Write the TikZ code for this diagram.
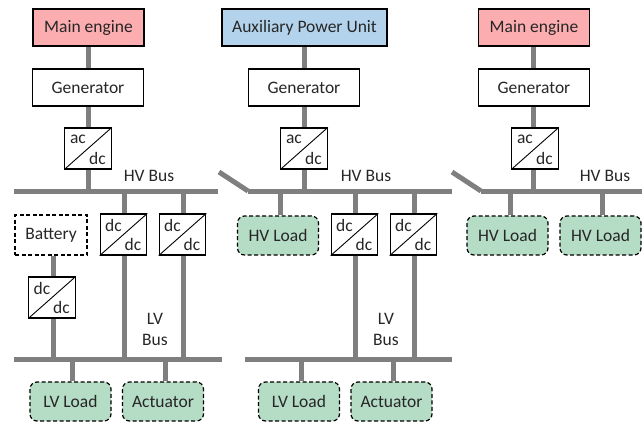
\documentclass[tikz,border=0pt]{standalone}
\usepackage{fontspec}
\setmainfont{Carlito}
\usetikzlibrary{calc}
\definecolor{enginered}{HTML}{FBADB0}
\definecolor{apublue}{HTML}{B3D3EC}
\definecolor{loadgreen}{HTML}{B5DCC4}
\definecolor{wire}{HTML}{7F7F7F}
\definecolor{ink}{HTML}{262626}
\tikzset{
  base/.style={draw=black,line width=1.2pt,minimum width=#1,minimum height=37pt,inner sep=0pt,text=ink,font=\fontsize{17.5}{20}\selectfont},
  engine/.style={base=111pt,fill=enginered},
  apu/.style={base=165pt,fill=apublue},
  gen/.style={base=111pt,fill=white},
  battery/.style={base=72pt,minimum height=40pt,fill=white,dash pattern=on 4pt off 2.5pt},
  load/.style={base=81pt,minimum height=39pt,fill=loadgreen,rounded corners=7pt,dash pattern=on 4pt off 2.5pt},
  conv/.style={draw=black,line width=1.2pt,minimum width=46.5pt,minimum height=41pt,inner sep=0pt,fill=white},
  wirel/.style={draw=wire,line width=5pt},
  busl/.style={draw=wire,line width=5pt},
  lbl/.style={text=ink,font=\fontsize{17.5}{20}\selectfont,inner sep=0pt}
}
\begin{document}
\begin{tikzpicture}[x=1pt,y=-1pt]
\useasboundingbox (0,0) rectangle (642,421);
% buses
\coordinate (b1l) at (14,191); \coordinate (b1r) at (218,191);
\coordinate (b2l) at (248,191); \coordinate (b2r) at (452,191);
\coordinate (b3l) at (481,191); \coordinate (b3r) at (642,191);
\coordinate (l1l) at (14,359); \coordinate (l1r) at (222,359);
\coordinate (l2l) at (245,359); \coordinate (l2r) at (452,359);
\coordinate (s2) at (219,172); \coordinate (s3) at (452,172);
\draw[busl] (b1l) -- (b1r);
\draw[busl] (b2l) -- (b2r);
\draw[busl] (b3l) -- (b3r);
\draw[busl] (l1l) -- (l1r);
\draw[busl] (l2l) -- (l2r);
\draw[wirel] (s2) -- (b2l);
\draw[wirel] (s3) -- (b3l);
% junctions
\foreach \n/\x/\y in {j1/88/191,j2/124.5/191,j3/183/191,j4/53/359,j5/124.5/359,j6/183/359,j7/72/359,j8/165/359,
  j9/304/191,j10/280/191,j11/355/191,j12/414/191,j13/355/359,j14/414/359,j15/301/359,j16/393/359,
  j17/533.5/191,j18/510/191,j19/602/191}
  \coordinate (\n) at (\x,\y);
% column 1
\node[engine] (e1) at (88.5,27.5) {Main engine};
\node[gen] (g1) at (88,87.5) {Generator};
\node[conv] (c1) at (88,148.5) {};
\node[conv] (c2) at (123.5,234.5) {};
\node[conv] (c3) at (182.5,234.5) {};
\node[battery] (bat) at (51,235) {Battery};
\node[conv] (c4) at (52,297.5) {};
\node[load] (ll1) at (70.5,401.5) {LV Load};
\node[load] (act1) at (163,401.5) {Actuator};
% column 2
\node[apu] (apu) at (304.5,27.5) {Auxiliary Power Unit};
\node[gen] (g2) at (304,87.5) {Generator};
\node[conv] (c5) at (304,148.5) {};
\node[load] (hl1) at (278,235.5) {HV Load};
\node[conv] (c6) at (354.5,234.5) {};
\node[conv] (c7) at (413.5,234.5) {};
\node[load] (ll2) at (299,401.5) {LV Load};
\node[load] (act2) at (391.5,401.5) {Actuator};
% column 3
\node[engine] (e3) at (534,27.5) {Main engine};
\node[gen] (g3) at (534,87.5) {Generator};
\node[conv] (c8) at (535,148.5) {};
\node[load] (hl2) at (507.5,235.5) {HV Load};
\node[load] (hl3) at (600.5,235.5) {HV Load};
% connectors
\draw[wirel] (e1.south -| g1) -- (g1);
\draw[wirel] (g1) -- (c1);
\draw[wirel] (c1) -- (j1);
\draw[wirel] (j2) -- (j2 |- c2.north);
\draw[wirel] (j3) -- (j3 |- c3.north);
\draw[wirel] (j5 |- c2.south) -- (j5);
\draw[wirel] (j6 |- c3.south) -- (j6);
\draw[wirel] (j4 |- bat.south) -- (j4 |- c4.north);
\draw[wirel] (j4 |- c4.south) -- (j4);
\draw[wirel] (j7) -- (j7 |- ll1.north);
\draw[wirel] (j8) -- (j8 |- act1.north);
\draw[wirel] (apu.south -| g2) -- (g2);
\draw[wirel] (g2) -- (c5);
\draw[wirel] (c5) -- (j9);
\draw[wirel] (j10) -- (j10 |- hl1.north);
\draw[wirel] (j11) -- (j11 |- c6.north);
\draw[wirel] (j12) -- (j12 |- c7.north);
\draw[wirel] (j13 |- c6.south) -- (j13);
\draw[wirel] (j14 |- c7.south) -- (j14);
\draw[wirel] (j15) -- (j15 |- ll2.north);
\draw[wirel] (j16) -- (j16 |- act2.north);
\draw[wirel] (j17 |- e3.south) -- (j17 |- g3.north);
\draw[wirel] (j17 |- g3.south) -- (j17 |- c8.north);
\draw[wirel] (j17 |- c8.south) -- (j17);
\draw[wirel] (j18) -- (j18 |- hl2.north);
\draw[wirel] (j19) -- (j19 |- hl3.north);
% converter diagonals and labels
\foreach \c/\t in {c1/ac,c2/dc,c3/dc,c4/dc,c5/ac,c6/dc,c7/dc,c8/ac}{
  \draw[line width=0.9pt] (\c.south west) -- (\c.north east);
  \node[lbl] at ($(\c.center)+(-10,-9)$) {\t};
  \node[lbl] at ($(\c.center)+(9.5,9.5)$) {dc};
}
% bus labels
\node[lbl] (hv1) at (149,176) {HV Bus};
\node[lbl] (hv2) at (366,175.5) {HV Bus};
\node[lbl] (hv3) at (605,176) {HV Bus};
\node[lbl] (lv1a) at (155,318.5) {LV};
\node[lbl] (lv1b) at (155,339.5) {Bus};
\node[lbl] (lv2a) at (386,318.5) {LV};
\node[lbl] (lv2b) at (386,339.5) {Bus};
\end{tikzpicture}
\end{document}
